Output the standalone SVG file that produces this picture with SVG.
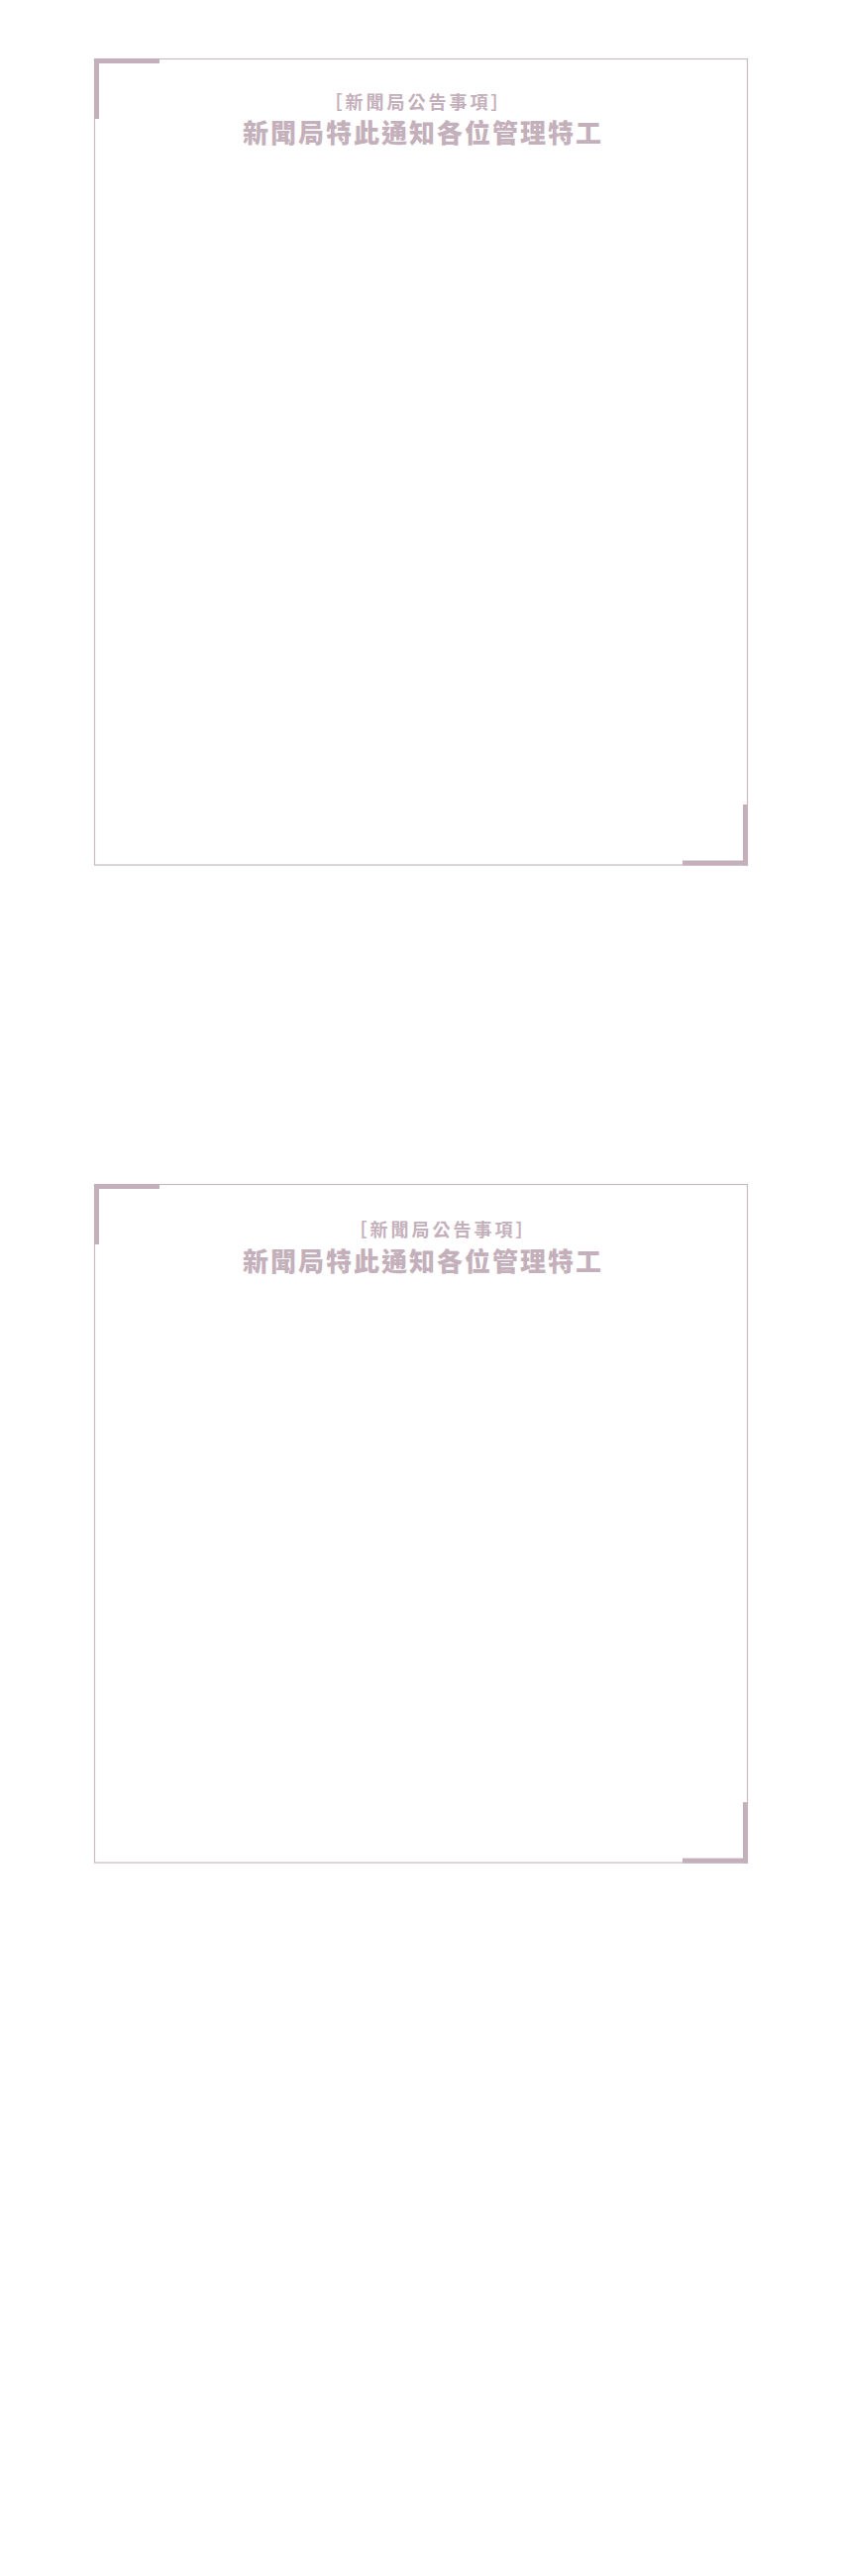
<svg xmlns="http://www.w3.org/2000/svg" width="850" height="2600" viewBox="0 0 850 2600">
  <style>
    .frame { fill: none; stroke: #c9b9c1; stroke-width: 1.2; }
    .corner { fill: #c4b0bb; }
    .sub { font-family: "Noto Sans CJK TC", "Noto Sans CJK SC", sans-serif; font-weight: 700; font-size: 18px; letter-spacing: 3px; fill: #c4b0bb; text-anchor: middle; }
    .title { font-family: "Noto Sans CJK TC", "Noto Sans CJK SC", sans-serif; font-weight: 900; font-size: 26px; letter-spacing: 2px; fill: #c4b0bb; text-anchor: middle; }
  </style>
  <rect x="0" y="0" width="850" height="2600" fill="#ffffff"/>

  <g id="notice-1">
    <rect class="frame" x="95.5" y="59.5" width="659" height="813.5"/>
    <rect class="corner" x="95" y="59" width="66" height="5"/>
    <rect class="corner" x="95" y="59" width="5" height="61"/>
    <rect class="corner" x="750" y="812" width="5" height="61.5"/>
    <rect class="corner" x="689" y="868.5" width="66" height="5"/>
    <text class="sub" x="422" y="110">［新聞局公告事項］</text>
    <text class="title" x="427" y="144">新聞局特此通知各位管理特工</text>
  </g>

  <g id="notice-2">
    <rect class="frame" x="95.5" y="1195.5" width="659" height="684.5"/>
    <rect class="corner" x="95" y="1195" width="66" height="5"/>
    <rect class="corner" x="95" y="1195" width="5" height="61"/>
    <rect class="corner" x="750" y="1819" width="5" height="61.5"/>
    <rect class="corner" x="689" y="1875.5" width="66" height="5"/>
    <text class="sub" x="447" y="1248">［新聞局公告事項］</text>
    <text class="title" x="427" y="1283">新聞局特此通知各位管理特工</text>
  </g>
</svg>
